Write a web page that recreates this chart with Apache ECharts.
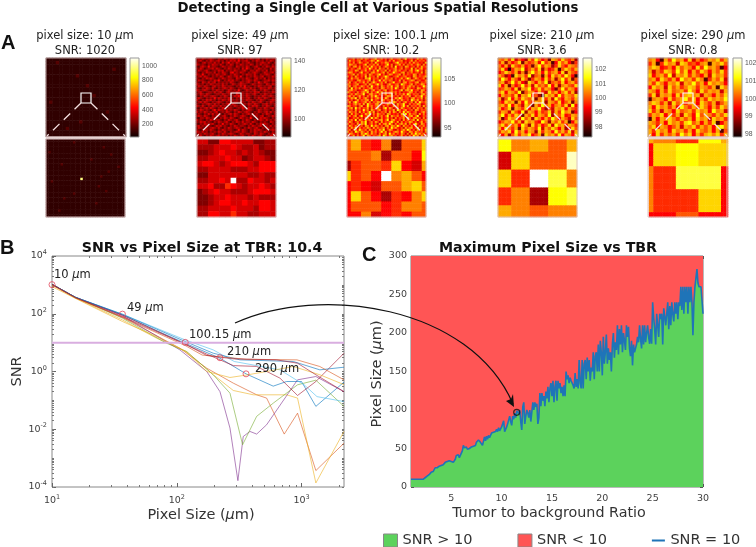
<!DOCTYPE html>
<html><head><meta charset="utf-8">
<style>html,body{margin:0;padding:0;background:#fff}#c{width:756px;height:547px}</style>
<script src="https://cdn.jsdelivr.net/npm/echarts@6/dist/echarts.min.js"></script>
</head><body><div id="c"></div>
<script>
// ---- Panel A: heat levels, one character per cell.
// Scale 0..g (hex-like) = 17 steps along the hot colour map.
const panelPixelSizes = ['10','49','100.1','210','290'];
const panelSNR = ['1020','97','10.2','3.6','0.8'];

const full10 = [
'111111111111111111111111','111211111111111111111111','111111111111111111111111','111111111111111111112111',
'111111111111111111111111','111111111211111111111111','111111111111111111111111','111111111111111111111111',
'111111111111211111111111','111111111111111111111111','111111111111111111111111','111111111111112111111111',
'111111111111111111111111','121111111111111111111111','111111111111111111111111','111111111111111111111111',
'111111111111111111211111','111111111111111111111111','111111111111111111111111','111111111121111111111111',
'111111111111111111111111','111111211111111111111111','111111111111111111111111','111111111111111111111111'];
const full49 = [
'4435434543244354345435342435434524354344','3453243543453424354536344532435434243543','4324534435342534634354243453324345435324',
'5434324354435324354243543435424353443243','3245436344323543443254343542345324354354','4354234453543243543434253643243543432534',
'3543453234354524343543345324435434352434','4324354435243543256343543243454323543453','5436324343543453243543243544353243454324',
'3453543243435423543453632434354345234354','4324354543243543443254343543245343524343','3544323435463243545343243454354323445354',
'4325435345243434354323543453243643543243','5434243543443534235434544323543443254354','3543543245343543443243536343243543434523',
'4324354353243454354324345435342354435434','5434543243543423543436323543453243543243','3453234435345324534354243434354523434354',
'4354354323443543443254343543453243543432','3243543454324354323546343543243435434543','4543243436354343543243543453243543543243',
'5324354534243543534343243544324354323454','3453543243454324353443543243543453243543','4324345435342434635432434354354324453434',
'5435324354435343243543453243545324354324','3243453543243543443234354354324343543453','4354343246354435343543243454323543443243',
'5343543434523435432435434543243543453534','3432435353443243453543243453534324354324','4543543243543453243543454324354345234354',
'3244354345324354354323543436324354543243','5343243543443243543453243543243454353434','4354534324354345324354353443543243432543',
'3243543453243634354324345435324354543243','4534354323545343243543443243543453243534','3543243454353243543454324354345324354343',
'4324543543243543443236354324354543243454','5435342434354353243454354324354343543243','3443543453243543454323543443254354324354','4353243543453434243543453243543453243543'];
const full100 = [
'8679587a698578b6796857a678958c67856a7968','5a7868957867a96c8768596a67895767a5968786','786957a8679585b7687a96579c7868596a78675a',
'6a9785768b58796a5768c69578a69587967a8596','7859a69587a6b786957a8695c6785a9678596a78','968758a6796c8695a7859678a6795876b5968a67',
'5786a9587a68596c787a5968a7967858a69c7859','8a96758b67859a7868a5967c8769a58796786a59','678a5968795a8679c6857a9678a596876a958768',
'9685a7686b59785a678c96578a6789675a96878a','56a789675a9c6878596a8795867a68c957a86795','878659a7868a5967c6a8798576a59678a9578669',
'6a579687a6958b86796a578c67859a68769a5878','98678a56795a868c79658a76895c9768a5867a96','7a58967a8695c7685a8697b68a57968a795867c8',
'85c697a58679a6785a9687a6c85796a8675a9687','69a785678c958a67968a5796768b59a8c6785a96','a8675968a7b5968c7a5968a79685767a96857a68',
'5796a878c569a786957a68a59687a6c9687859a7','8a6957a68596a7c86857a9a76859687a56978c68','67a8c5968a75968a796b8576a8c967859a687a59',
'96857a6879a5c6875a9687a8596a7685c97a6858','7a59c8678a69587a96856a7b96858a6795a6c879','5868a796a5c8769a5867a8695a78c659687a9568',
'a967858a56c7968a7596856a7968c6a5878695a7','68a5c79687a5968a759c6a85796a8678596a7859','9785a686c795a868a579687a5c968a6785a96878',
'6a8795a6968c7a5868795a6a8596c7a8679568a7','85a697586a8c596a8785a967685a9c6a7885a696','7968a58c67a9586a7968c5a87968a579a68c5687',
'a56879685a96c7a85967a6859687a5c869a78596','8796c5a86a7958679a68c59a7685a6978a5c6879','6a85796a8c5796a85a6879c86a59687a96857a68',
'96875a6a8c579685a69a7c85968a7a5968c75a86','5a8696785a96c7a86859a6a97c85a78696a58796','86a7c59687a85a6978a596c8a7685a79a68c5968',
'7958a6c8795a8696a8c57a965868a7c9685a796a','a685c97a8695a7968c7a5868a96c875a96a87859','5a97685a8c96a785968a5c79686a8595a7c8a796','867a5968c5a96878a5c969a7857a68596c8a5a79'];
const full210 = [
'98a7b5864a7c9683a97b8794','7a4968b3978a6c7926b8a637','96a5b87a6839c7a947b86a98','8b617a9c58a7b4967a28b97a',
'68b97a5939c8a6b79a6b4a87','a8462b9a7c4893a6b8a7c961','7c96a85b837a96b7a49c7a38','9a58c7a64b96a8c4897b69a7',
'b6a3968c7a5b897c6a49a87b','78a96b4a9c68b7a9638c7a96','9b6a97c38a96a75b8a69b7a4','6a897b5a9c7842b9a6c7a98b',
'a48c6a7b98a39b7a5c86a97a','86b9a3a6c87a9b4a97b68a39','9a7c6a85b93a7c8a69a7b5c6','a68b3a97b6a9c7485a9b6a87',
'7a95b86c4a96a78b5a7c9a36','9c6a7b93a8b6a97c4a8b67a9','a37b9a6c8a4b96a7c96a85b8','68a9c7a5b9a76c94a8b7a26a',
'9b7a8a6c94b7a68b5c9a6a97','a6c97a3b8a97c5a8b96a47b8','7a9b6c8a6a94b7a96c8a7b5a','96a48b7a9c68a3b9a7c6a96b'];
const full290 = [
'9a62a7c9a6b5968a9b7a','7a27b9a5ba7869a2a9b8','9ba6796b8a96b7c9a826','a597ba7c8b6a7b96a8b7',
'b69a7c5a9b7a86a5b9a7','9a6b97a6c9a7b927a8b5','a7b96a9b5a9c8a6b9a96','6b9a5b8a79ba7a97a2b9',
'a96a7b89a7c96b8a9a5a','7b5a9a6b7ab9a5a96a8b','29a96b79ac8b6a7b9a9c','9ba7a5b8a79a6b97a58a',
'a6b9a7a6c97a8b96a7b9','b7a5a96b89a7b9a6c9a5','7a9b6a7a5b96c8a97a8b','2a6a9b97a8a6b9a5b9a7',
'a97a6b9a7bc8a6a7b269','9b6a968a5a9b7a8a6bc9','a7b9a6b9a7a6b98a6a28','a6b7a8a7c9b6a7ab9b7a'];

const zoom10 = [
'11111111111111111111111111111111','11111111111211111111111111111111','11111111111111111111111111111111','11111111111111111111111211111111',
'11111111111111111111111111111111','12111111111111111111111111111111','11111111111111111111111111211111','11111111111111111111111111111111',
'11111111111111111121111111111111','11111111111111111111111111111111','11111121111111111111111111111111','11111111111111111111111111111211',
'11111111111111111111111111111111','11111111111111111111111112111111','11111111111111111111111111111111','11111111111111111111112111111111',
'11111111111111111111111111111111','11211111111111111111111111111111','11111111111111111111111111111111','11111111111111111111121111111111',
'11111111111111111111111111111111','11111111111111111111111121111111','11111111111211111111111111111111','11111111111111111111111111111111',
'11111112111111111111111111111111','11111111111111111111111111111111','11111111111111111111211111111111','11111111111111111111111111111111',
'11111111111111111111111111111111','11111211111111111111111111111111','11111111111111111111111111111111','11111111111111111111111111111111'];
const zoom10Peak = {col:14,row:16,level:'e'};
const zoom49 = [
'55336655553344','44455565445344','33456554545433','44555655345543','56654566654666','44555544455666','33555555544544',
'445565g4465545','55644765455654','34565544456665','33455655545444','33456655655665','44555565554665','44665575544555'];
const zoom100 = ['8a769388b','8a769388b','88894886c','47887b65a','b786g9a86','676588ab8','6b864769b','688867998','669567688'];
const zoom100Cols=[2,5,5,5,5,5,5,5,2], zoom100Rows=[1,6,6,6,6,6,6,6,3];
const zoom210 = ['c9a8a','5b88f','b7gd9','794cd','a9899'];
const zoom210Cols=[8,11,11,11,6], zoom210Rows=[8,11,11,11,7];
const zoom290 = ['a97ca','6bcbb','97dd6','977b6','66866'];
const zoom290Cols=[2,10,10,10,3], zoom290Rows=[2,10,10,10,2];

const barRanges = [[26,1110],[87.6,142],[93.1,109.4],[97.3,102.8],[97.85,102.3]];
const barTicks = [[200,400,600,800,1000],[100,120,140],[95,100,105],[98,99,100,101,102],[98,99,100,101,102]];

// ---- Panel B: SNR vs pixel size, [pixel size, SNR]
const lineBlueA=[[10,1047],[15.4,372],[36.7,91],[73.6,23],[117,9.5],[222,2.89],[359,.83],[593,.311],[759,.45],[1000,.45],[1303,.062],[2190,.43]];
const lineOrange=[[10,1047],[15.4,360],[36.7,75],[106,6.4],[174,1.3],[284,.395],[437,.156],[525,.12],[727,.0068],[929,.036],[1303,.00037],[2190,.0033]];
const lineYellowLow=[[10,990],[15.4,350],[36.7,61],[69,14.2],[120,4.9],[196,.77],[284,.22],[411,.156],[759,.156],[929,.12],[1303,.000138],[2190,.0084]];
const linePurple=[[10,1047],[15.4,372],[36.7,86],[106,5.6],[174,1.0],[222,.2],[267,.011],[309,.000166],[341,.0056],[386,.0084],[437,.0068],[525,.0143],[929,.515],[1303,.67],[2190,.2]];
const lineGreen=[[10,1047],[15.4,372],[36.7,70],[83,9.5],[120,4.9],[196,.77],[267,.178],[337,.0029],[437,.028],[593,.08],[929,.346],[1303,.5],[2190,.062]];
const lineLightBlue=[[10,1047],[15.4,372],[36.7,96],[117,12.4],[196,5.6],[289,2.22],[671,1.14],[1050,.346],[1330,.135],[2190,.091]];
const lineBrownRed=[[10,1047],[15.4,372],[36.7,90],[117,8.8],[174,4],[284,1.6],[437,1.5],[671,.59],[929,.148],[1303,.45],[2190,4.3]];
const lineBlueB=[[10,1047],[15.4,372],[36.7,96],[117,10.9],[196,4.3],[321,2.53],[858,2.22],[1403,1.14],[2190,1.41]];
const lineOrangeTop=[[10,990],[15.4,350],[36.7,75],[117,7.9],[160,3.7],[360,2.65],[920,2.53],[1400,1.49],[2190,.515]];
const lineYellowUp=[[10,870],[15.4,340],[36.7,54],[73.6,14.2],[117,5],[174,1],[267,.62],[359,.75],[525,1],[858,1.49],[1403,.77],[2190,.35]];
const lineRedTop=[[10,1047],[15.4,360],[36.7,80],[117,8.8],[174,3.6],[284,2.74],[631,2.53],[929,1.94],[1303,.77],[2190,.2]];
const thresholdLine=[[10,10],[2190,10]];
const chosenPoints=[[10,1020],[36.7,97],[117,10.2],[222,3],[359,.83]];
const chosenLabels=['10','49','100.15','210','290'];

// ---- Panel C: maximum pixel size, one value per TBR step of 0.1 from 1 to 30
const maxPixelSize=[
10,10,10,10,10,10,10,10,10,10,
10,10,10,10,12,13,14,15,16,18,
19,20,20,22,25,26,25,26,27,28,
28,27,29,30,32,31,33,32,34,33,
33,35,32,34,36,41,40,42,38,40,
44,47,54,51,50,52,49,48,50,52,
52,54,53,55,54,58,56,61,60,58,
60,54,56,65,60,66,62,67,64,66,
70,69,71,69,72,75,72,77,73,75,
78,76,86,72,74,78,82,80,92,85,
80,92,88,96,90,99,97,95,100,85,
74,104,110,82,92,100,96,90,100,85,
84,110,100,110,104,108,82,90,122,105,
122,112,118,105,124,115,130,110,128,135,
118,138,110,130,138,112,138,128,135,122,
130,118,132,118,150,140,145,135,142,138,
140,132,128,148,130,140,128,165,135,128,
165,128,160,165,140,168,150,165,138,155,
150,175,140,170,175,150,185,150,190,175,
145,195,160,175,198,160,180,165,175,150,
185,200,168,188,178,210,172,205,185,210,
175,200,190,178,210,195,208,180,170,190,
158,185,175,180,185,195,188,210,192,180,
210,185,210,188,200,210,195,186,205,186,
240,220,205,185,225,210,195,225,218,225,
185,232,222,210,225,240,205,235,210,240,
225,215,240,225,240,218,240,235,260,230,
260,225,260,240,260,225,260,240,260,240,
197,240,260,262,283,265,260,260,260,258,
225];
const ceilingPixelSize=300;
const chosenC=[[11.5,97]];

// ---- Build
const FONT='"DejaVu Sans"';
const GRAY='#404040';
const hot=['#0a0000','#550000','#aa0000','#ff0000','#ff5500','#ffaa00','#ffff00','#ffff80','#ffffff'];
const imgL=[46,196,347,498,648], imgW=80;

function cells(rows,cw,rw){
  cw=cw||rows[0].split('').map(()=>1); rw=rw||rows.map(()=>1);
  const out=[]; let y=0;
  rows.forEach((r,ri)=>{
    for(let a=0;a<rw[ri];a++){ let x=0;
      r.split('').forEach((c,ci)=>{ for(let b=0;b<cw[ci];b++){ out.push([x,y,parseInt(c,36)]); x++; } });
      y++; }
  });
  return {data:out,nx:cw.reduce((p,q)=>p+q,0),ny:y};
}
const grids=[],xAxis=[],yAxis=[],series=[],title=[];
const noBounds={outerBoundsMode:'none'};
function catAxes(nx,ny,gi){
  xAxis.push({type:'category',gridIndex:gi,show:false,data:Array.from({length:nx},(_,i)=>i)});
  yAxis.push({type:'category',gridIndex:gi,show:false,inverse:true,data:Array.from({length:ny},(_,i)=>i)});
}
function addHeat(left,top,w,h,c){
  const gi=grids.length;
  grids.push({left,top,width:w,height:h,...noBounds});
  catAxes(c.nx,c.ny,gi);
  series.push({type:'heatmap',xAxisIndex:xAxis.length-1,yAxisIndex:yAxis.length-1,data:c.data,silent:true,progressive:0});
}
const tops=[full10,full49,full100,full210,full290];
tops.forEach((r,i)=>addHeat(imgL[i],58,imgW,79,cells(r)));
const z1=cells(zoom10); z1.data.forEach(d=>{if(d[0]===zoom10Peak.col&&d[1]===zoom10Peak.row)d[2]=parseInt(zoom10Peak.level,36)});
addHeat(46,139,79,78,z1);
addHeat(197,139,79,78,cells(zoom49));
addHeat(347,139,79,78,cells(zoom100,zoom100Cols,zoom100Rows));
addHeat(498,139,79,78,cells(zoom210,zoom210Cols,zoom210Rows));
addHeat(649,139,79,78,cells(zoom290,zoom290Cols,zoom290Rows));
const heatCount=series.length;

// colour bars
const barL=[130,282,432,583,733];
barRanges.forEach((rng,i)=>{
  const gi=grids.length;
  grids.push({left:barL[i],top:58,width:9,height:79,show:true,borderColor:'#999',borderWidth:1,...noBounds,
    backgroundColor:new echarts.graphic.LinearGradient(0,1,0,0,hot.map((c,k)=>({offset:k/8,color:c})))});
  xAxis.push({type:'value',gridIndex:gi,show:false,min:0,max:1});
  yAxis.push({type:'value',gridIndex:gi,position:'right',min:rng[0],max:rng[1],splitLine:{show:false},
    axisLine:{show:false,onZero:false},axisTick:{show:false},
    axisLabel:{show:true,customValues:barTicks[i],formatter:v=>String(v),margin:3,fontSize:6.8,color:'#555',fontFamily:'"Liberation Sans"',showMinLabel:true,showMaxLabel:true}});
});

// panel titles
const rich={a:{fontFamily:FONT,fontWeight:'normal',fontSize:11.5,color:'#222',lineHeight:15},i:{fontFamily:FONT,fontWeight:'normal',fontStyle:'italic',fontSize:11.5,color:'#222',lineHeight:15}};
const titleC=[85,240,391,542,693];
panelPixelSizes.forEach((p,i)=>{
  title.push({text:`{a|pixel size: ${p} }{i|μ}{a|m}\n{a|SNR: ${panelSNR[i]}}`,left:titleC[i],top:29,padding:0,textAlign:'center',textStyle:{rich,fontFamily:FONT,fontWeight:'normal',fontSize:11.5}});
});
const titleStyle={fontFamily:FONT,fontWeight:'bold',fontSize:14.2,color:'#111'};
title.push({text:'Detecting a Single Cell at Various Spatial Resolutions',left:378,top:2,padding:0,textAlign:'center',textStyle:{...titleStyle,fontSize:13.3}});
title.push({text:'SNR vs Pixel Size at TBR: 10.4',left:202,top:241,padding:0,textAlign:'center',textStyle:titleStyle});
title.push({text:'Maximum Pixel Size vs TBR',left:548,top:241,padding:0,textAlign:'center',textStyle:titleStyle});

// ---- panel B
const sup=v=>`{a|10}{b|${Math.round(Math.log10(v))}}`;
const supRich={a:{fontFamily:FONT,fontSize:9.5,color:GRAY},b:{fontFamily:FONT,fontSize:6.5,color:GRAY,padding:[0,0,7,0]}};
const gB=grids.length;
grids.push({left:52,top:256,width:292,height:231,show:true,borderColor:'#888',borderWidth:1,backgroundColor:'#fff',...noBounds});
const nameRich={a:{fontFamily:FONT,fontSize:14.5,color:'#333'},i:{fontFamily:FONT,fontSize:14.5,fontStyle:'italic',color:'#333'}};
const xB=xAxis.length;
xAxis.push({type:'log',gridIndex:gB,min:10,max:2190,logBase:10,position:'bottom',
  name:'{a|Pixel Size (}{i|μ}{a|m)}',nameLocation:'middle',nameGap:21,nameTextStyle:{rich:nameRich,padding:[0,0,0,6]},
  axisLine:{show:false,onZero:false},splitLine:{show:false},minorTick:{show:false},
  axisTick:{inside:true,length:4,lineStyle:{color:'#666'}},
  axisLabel:{formatter:sup,rich:supRich,margin:7,showMaxLabel:false}});
const yB=yAxis.length;
yAxis.push({type:'log',gridIndex:gB,min:1e-4,max:1e4,logBase:10,interval:2,position:'left',
  name:'SNR',nameLocation:'middle',nameGap:15,nameTextStyle:{fontFamily:FONT,fontSize:14.5,color:'#333'},
  axisLine:{show:false,onZero:false},splitLine:{show:false},minorTick:{show:false},
  axisTick:{inside:true,length:4,lineStyle:{color:'#666'}},
  axisLabel:{formatter:sup,rich:supRich,margin:5}});
const minorX=[],minorY=[];
for(let e=1;e<=3;e++)for(let k=2;k<=9;k++){const v=e+Math.log10(k);if(v<3.34)minorX.push(v);}
for(let e=-4;e<4;e++)for(let k=1;k<=9;k++)minorY.push(e+Math.log10(k));
const minorTick=(vals,len)=>({show:true,inside:true,length:len,customValues:vals,lineStyle:{color:'#777',width:1}});
['bottom','top'].forEach(pos=>xAxis.push({type:'value',gridIndex:gB,position:pos,min:1,max:3.34,axisLine:{show:false,onZero:false},splitLine:{show:false},axisLabel:{show:false},axisTick:minorTick(minorX,2)}));
['left','right'].forEach(pos=>yAxis.push({type:'value',gridIndex:gB,position:pos,min:-4,max:4,axisLine:{show:false,onZero:false},splitLine:{show:false},axisLabel:{show:false},axisTick:minorTick(minorY,2)}));
const bLines=[[lineBlueA,'#0072BD'],[lineOrange,'#D95319'],[lineYellowLow,'#EDB120'],[linePurple,'#7E2F8E'],[lineGreen,'#77AC30'],[lineLightBlue,'#4DBEEE'],[lineBrownRed,'#A2142F'],[lineBlueB,'#0072BD'],[lineOrangeTop,'#D95319'],[lineYellowUp,'#EDB120'],[lineRedTop,'#A2142F']];
bLines.forEach(([d,c])=>series.push({type:'line',xAxisIndex:xB,yAxisIndex:yB,data:d,showSymbol:false,silent:true,lineStyle:{width:1,color:c,opacity:.6}}));
series.push({type:'line',xAxisIndex:xB,yAxisIndex:yB,data:thresholdLine,showSymbol:false,silent:true,lineStyle:{width:2,color:'#d9aee0'}});
series.push({type:'scatter',xAxisIndex:xB,yAxisIndex:yB,data:chosenPoints,symbol:'circle',symbolSize:6,silent:true,z:5,itemStyle:{color:'rgba(0,0,0,0)',borderColor:'#e2485c',borderWidth:1}});

// ---- panel C
const gC=grids.length;
grids.push({left:411,top:256,width:292,height:231,show:true,borderColor:'#777',borderWidth:1,...noBounds});
const tbr=maxPixelSize.map((_,i)=>Math.round((1+i*0.1)*10)/10);
const xC=xAxis.length;
const tickValsC=[5,10,15,20,25,30];
xAxis.push({type:'value',gridIndex:gC,min:1,max:30,position:'bottom',name:'Tumor to background Ratio',nameLocation:'middle',nameGap:19,
  nameTextStyle:{fontFamily:FONT,fontSize:14.3,color:'#333',padding:[0,16,0,0]},axisLine:{show:false,onZero:false},splitLine:{show:false},
  axisTick:{inside:true,length:3,customValues:tickValsC,lineStyle:{color:'#555'}},
  axisLabel:{customValues:tickValsC,fontFamily:FONT,fontSize:9.5,color:GRAY,margin:7}});
xAxis.push({type:'value',gridIndex:gC,min:1,max:30,position:'top',axisLine:{show:false,onZero:false},splitLine:{show:false},axisLabel:{show:false},
  axisTick:{inside:true,length:3,customValues:tickValsC,lineStyle:{color:'#555'}}});
const yC=yAxis.length;
yAxis.push({type:'value',gridIndex:gC,min:0,max:300,interval:50,position:'left',name:'{a|Pixel Size (}{i|μ}{a|m)}',nameLocation:'middle',nameGap:17,
  nameTextStyle:{rich:nameRich,padding:[0,5,0,0]},axisLine:{show:false,onZero:false},splitLine:{show:false},axisTick:{inside:true,length:3,lineStyle:{color:'#555'}},
  axisLabel:{fontFamily:FONT,fontSize:9.5,color:GRAY,margin:4}});
yAxis.push({type:'value',gridIndex:gC,min:0,max:300,interval:50,position:'right',axisLine:{show:false,onZero:false},splitLine:{show:false},axisLabel:{show:false},axisTick:{inside:true,length:3,lineStyle:{color:'#555'}}});
const GREEN='#5cd25c',RED='#ff5555',BLUE='#1f74b8';
series.push({name:'SNR < 10',type:'line',xAxisIndex:xC,yAxisIndex:yC,data:tbr.map(x=>[x,ceilingPixelSize]),showSymbol:false,silent:true,z:2,lineStyle:{width:0,color:RED},itemStyle:{color:RED},areaStyle:{color:RED,opacity:1}});
series.push({name:'SNR > 10',type:'line',xAxisIndex:xC,yAxisIndex:yC,data:maxPixelSize.map((v,i)=>[tbr[i],v]),showSymbol:false,silent:true,z:3,lineStyle:{width:0,color:GREEN},itemStyle:{color:GREEN},areaStyle:{color:GREEN,opacity:1}});
series.push({name:'SNR = 10',type:'line',symbol:'none',xAxisIndex:xC,yAxisIndex:yC,data:maxPixelSize.map((v,i)=>[tbr[i],v]),silent:true,z:4,lineStyle:{width:1.6,color:BLUE},itemStyle:{color:BLUE}});
series.push({type:'scatter',xAxisIndex:xC,yAxisIndex:yC,data:chosenC,symbolSize:6,silent:true,z:6,itemStyle:{color:'rgba(0,0,0,0)',borderColor:'#111',borderWidth:1.2}});

// ---- annotation graphics
const graphic=[];
const letter=(t,x,y)=>graphic.push({type:'text',left:x,top:y,z:20,style:{text:t,font:'bold 20px "Liberation Sans"',fill:'#111'}});
letter('A',1,33);letter('B',0,238);letter('C',362,245);
const LINE='#f3dfdf';
imgL.forEach((L,i)=>{
  const bx=L+35, by=93, R=L+imgW-1;
  graphic.push({type:'rect',z:20,silent:true,shape:{x:L,y:58,width:imgW,height:79},style:{fill:'none',stroke:'#b8a0a0',lineWidth:1}});
  graphic.push({type:'rect',z:20,silent:true,shape:{x:L+(i===1?1:0),y:139,width:79,height:78},style:{fill:'none',stroke:'#dcc4c4',lineWidth:1}});
  graphic.push({type:'rect',z:21,silent:true,shape:{x:bx,y:by,width:10,height:10},style:{fill:'none',stroke:'#fff',lineWidth:1.2}});
  graphic.push({type:'line',z:21,silent:true,shape:{x1:bx,y1:by+10,x2:L+1,y2:136},style:{stroke:LINE,lineWidth:1.3,lineDash:[9,6]}});
  graphic.push({type:'line',z:21,silent:true,shape:{x1:bx+10,y1:by+10,x2:R,y2:136},style:{stroke:LINE,lineWidth:1.3,lineDash:[9,6]}});
  graphic.push({type:'line',z:21,silent:true,shape:{x1:L,y1:137.5,x2:R+1,y2:137.5},style:{stroke:'#e8d2d2',lineWidth:2}});
});
const noteAt=[[54,269],[127,302],[189,329],[227,346],[255,363]];
chosenLabels.forEach((t,i)=>graphic.push({type:'text',left:noteAt[i][0],top:noteAt[i][1],z:20,silent:true,
  style:{rich:{a:{fontFamily:FONT,fontSize:11.5,fill:'#222',color:'#222'},i:{fontFamily:FONT,fontSize:11.5,fontStyle:'italic',fill:'#222',color:'#222'}},text:`{a|${t} }{i|μ}{a|m}`}}));
graphic.push({type:'bezierCurve',z:22,silent:true,shape:{x1:235,y1:323,cpx1:320,cpy1:284,cpx2:470,cpy2:305,x2:513,y2:404},style:{fill:'none',stroke:'#111',lineWidth:1.2}});
graphic.push({type:'polygon',z:22,silent:true,shape:{points:[[514,407],[506,401],[511,399],[513,394]]},style:{fill:'#111'}});

const chart=echarts.init(document.getElementById('c'),null,{renderer:'canvas'});
chart.setOption({
  animation:false,backgroundColor:'#fff',textStyle:{fontFamily:FONT},
  title,grid:grids,xAxis,yAxis,series,graphic,
  tooltip:{show:false},
  visualMap:{show:false,type:'continuous',min:0,max:16,seriesIndex:Array.from({length:heatCount},(_,i)=>i),inRange:{color:hot}},
  legend:{left:383,top:533,padding:0,width:373,itemGap:45,itemWidth:14,itemHeight:13,selectedMode:false,
    textStyle:{fontFamily:FONT,fontSize:14.5,color:'#333'},
    data:[{name:'SNR > 10',icon:'rect',itemStyle:{color:GREEN,borderColor:'#888',borderWidth:1}},
          {name:'SNR < 10',icon:'rect',itemStyle:{color:RED,borderColor:'#888',borderWidth:1}},
          {name:'SNR = 10',icon:'path://M0,0 L0.01,0 L0,0.01 Z M0,6 L14,6 L14,8 L0,8 Z M14,14 L13.99,14 L14,13.99 Z',itemStyle:{color:BLUE,borderWidth:0}}]}
});
</script></body></html>
